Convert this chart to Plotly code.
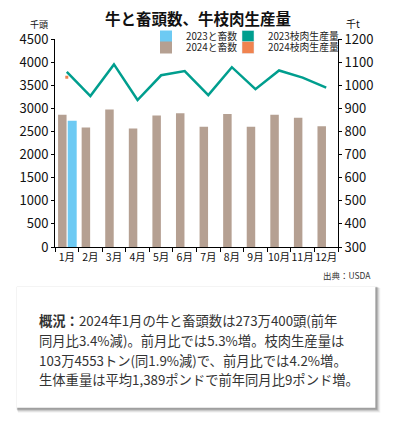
import plotly.graph_objects as go

months = ["1月", "2月", "3月", "4月", "5月", "6月", "7月", "8月", "9月", "10月", "11月", "12月"]
# brown bars (full year)
slaughter_full = [2860, 2585, 2975, 2565, 2845, 2895, 2600, 2875, 2600, 2860, 2795, 2610]
# blue bar (January only)
slaughter_jan = [2734]
# teal line (full year, thousand t)
beef_full = [1058, 953, 1090, 936, 1043, 1061, 957, 1078, 983, 1064, 1033, 990]
# orange point (January only)
beef_jan = [1034.6]

FONT = "Noto Sans CJK JP"
BROWN = "#B5A092"
BLUE = "#6DCAF3"
TEAL = "#009E8E"
ORANGE = "#F0834F"

OFF = 8  # page body margin
WID, HEI = 393 - OFF, 433 - OFF
# plot area in screenshot pixels
L, R, T, B = 55 - OFF, 337.7 - OFF, 38.7 - OFF, 247.0 - OFF
W = R - L
H = B - T


def px(x):
    return (x - OFF - L) / W


def py(y):
    return (B - (y - OFF)) / H


def cx(x):
    return (x - OFF) / WID


def cy(y):
    return 1 - (y - OFF) / HEI


fig = go.Figure()
fig.add_trace(go.Bar(x=months, y=slaughter_full, name="2024と畜数", marker=dict(color=BROWN, line=dict(width=0)),
                     offset=-0.37, width=0.36, legend="legend2", hoverinfo="skip"))
fig.add_trace(go.Bar(x=months[:1], y=slaughter_jan, name="2023と畜数", marker=dict(color=BLUE, line=dict(width=0)),
                     offset=0.04, width=0.38, legend="legend", hoverinfo="skip"))
fig.add_trace(go.Scatter(x=months, y=beef_full, mode="lines", line=dict(color=TEAL, width=2.5),
                         yaxis="y2", showlegend=False, hoverinfo="skip"))
fig.add_trace(go.Scatter(x=months[:1], y=beef_jan, mode="markers",
                         marker=dict(color=ORANGE, size=3, symbol="square", line=dict(width=0)),
                         yaxis="y2", showlegend=False, hoverinfo="skip"))
# legend swatches for the production series
fig.add_trace(go.Bar(x=[months[0]], y=[None], name="2023枝肉生産量", marker=dict(color=TEAL), legend="legend3"))
fig.add_trace(go.Bar(x=[months[0]], y=[None], name="2024枝肉生産量", marker=dict(color=ORANGE), legend="legend4"))

leg_common = dict(font=dict(family=FONT, size=9.8, color="#222"), bgcolor="rgba(0,0,0,0)",
                  borderwidth=0, xanchor="left", yanchor="middle", itemwidth=30,
                  tracegroupgap=0, xref="container", yref="container")
col1, col2 = 146, 228
row1, row2 = 36.5, 47.5

fig.update_layout(
    width=WID, height=HEI,
    margin=dict(l=L, r=WID - R, t=T, b=HEI - B, pad=0, autoexpand=False),
    paper_bgcolor="white", plot_bgcolor="white",
    barmode="overlay",
    showlegend=True,
    font=dict(family=FONT, color="#111"),
    legend=dict(x=cx(col1), y=cy(row1), **leg_common),
    legend2=dict(x=cx(col1), y=cy(row2), **leg_common),
    legend3=dict(x=cx(col2), y=cy(row1), **leg_common),
    legend4=dict(x=cx(col2), y=cy(row2), **leg_common),
    xaxis=dict(type="category", categoryorder="array", categoryarray=months,
               showline=True, linecolor="#000", linewidth=1, ticks="outside", tickson="boundaries",
               ticklen=4, tickcolor="#000", showgrid=False, zeroline=False, tickangle=0,
               tickfont=dict(family=FONT, size=10.5, color="#111"), range=[-0.5, 11.5]),
    yaxis=dict(range=[0, 4500], dtick=500, showline=True, linecolor="#000", linewidth=1,
               ticks="outside", ticklen=3, tickcolor="#000", showgrid=False, zeroline=False,
               tickfont=dict(family=FONT, size=13, color="#111")),
    yaxis2=dict(range=[300, 1200], dtick=100, overlaying="y", side="right", showline=True,
                linecolor="#000", linewidth=1, ticks="outside", ticklen=3, tickcolor="#000",
                showgrid=False, zeroline=False, tickfont=dict(family=FONT, size=13, color="#111")),
)

ann = []
ann.append(dict(text="<b>牛と畜頭数、牛枝肉生産量</b>", x=px(197.5), y=py(18), xref="paper", yref="paper",
                showarrow=False, xanchor="center", yanchor="middle", font=dict(family=FONT, size=15.5, color="#111")))
ann.append(dict(text="千頭", x=px(50), y=py(24), xref="paper", yref="paper", showarrow=False,
                xanchor="right", yanchor="middle", font=dict(family=FONT, size=9, color="#111")))
ann.append(dict(text="千t", x=px(344), y=py(23), xref="paper", yref="paper", showarrow=False,
                xanchor="left", yanchor="middle", font=dict(family=FONT, size=10, color="#111")))
ann.append(dict(text="出典：USDA", x=px(373), y=py(275), xref="paper", yref="paper", showarrow=False,
                xanchor="right", yanchor="middle", font=dict(family=FONT, size=8.5, color="#333")))

lines = [
    "<b>概況：</b>2024年1月の牛と畜頭数は273万400頭(前年",
    "同月比3.4%減)。前月比では5.3%増。枝肉生産量は",
    "103万4553トン(同1.9%減)で、前月比では4.2%増。",
    "生体重量は平均1,389ポンドで前年同月比9ポンド増。",
]
ys = [321, 341, 360.5, 380]
for t, yy in zip(lines, ys):
    ann.append(dict(text=t, x=px(37), y=py(yy), xref="paper", yref="paper", showarrow=False,
                    xanchor="left", yanchor="middle", font=dict(family=FONT, size=13.3, color="#333")))
fig.update_layout(annotations=ann)

bx0, by0, bx1, by1 = 17, 287, 375, 408
shapes = []
for d, op in [(5, 0.05), (4, 0.08), (3, 0.12), (2, 0.18)]:
    shapes.append(dict(type="rect", xref="paper", yref="paper",
                       x0=px(bx0 - 1 + d * 0.4), x1=px(bx1 + d), y0=py(by0 - 1 + d * 0.4), y1=py(by1 + d),
                       fillcolor=f"rgba(0,0,0,{op})", line=dict(width=0), layer="below"))
shapes.append(dict(type="rect", xref="paper", yref="paper", x0=px(bx0), x1=px(bx1), y0=py(by0), y1=py(by1),
                   fillcolor="white", line=dict(width=0), layer="below"))
fig.update_layout(shapes=shapes)

fig.write_html("out.html")
